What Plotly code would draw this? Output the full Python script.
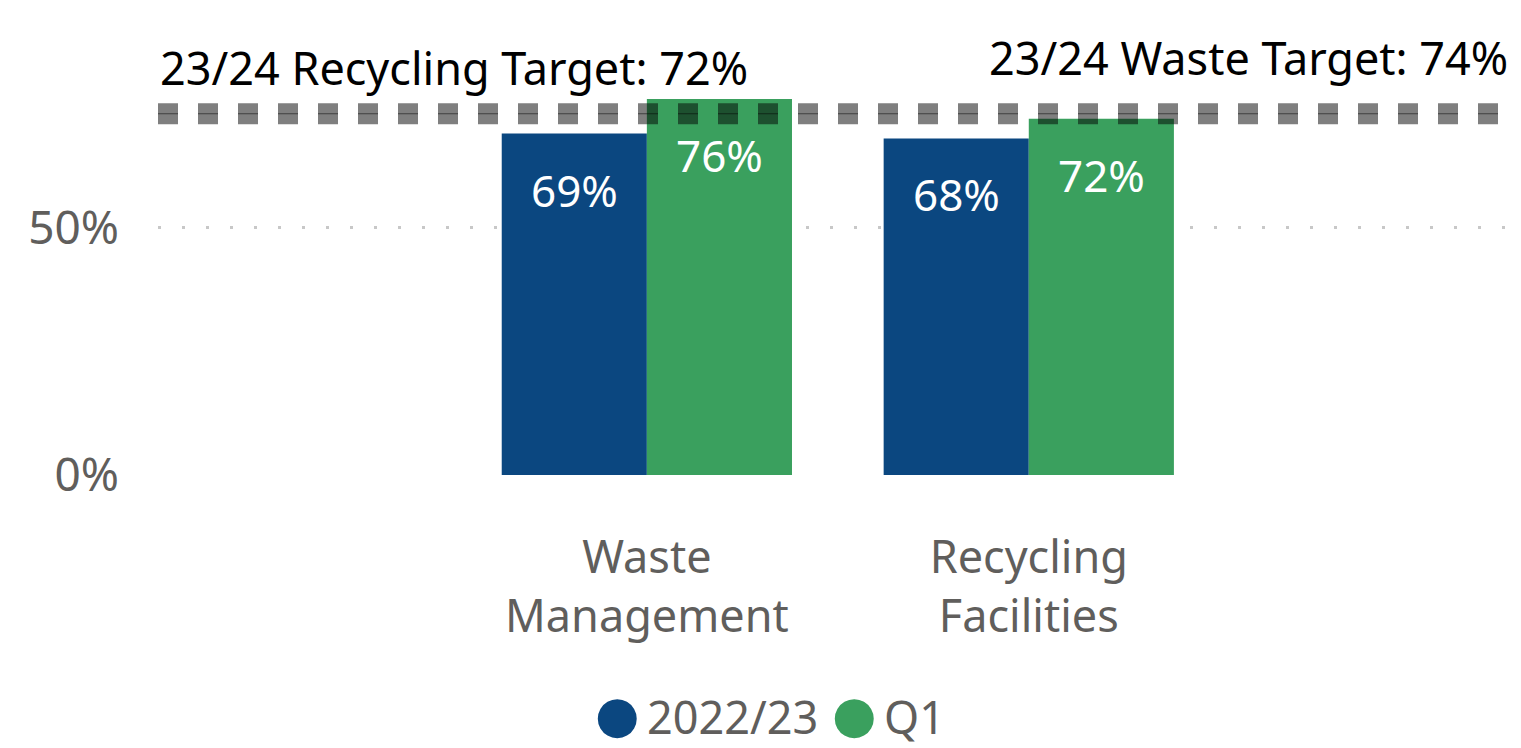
import plotly.graph_objects as go

categories = ["Waste<br>Management", "Recycling<br>Facilities"]
series_names = ["2022/23", "Q1"]
values_2022 = [69, 68]
values_q1 = [76, 72]
targets = [74, 72]
target_labels = ["23/24 Waste Target: 74%", "23/24 Recycling Target: 72%"]
ytick_vals = [0, 50]
ytick_text = ["0%", "50%"]

BLUE = "#0B4780"
GREEN = "#3AA05E"
GRAY = "#605E5C"
FONT = "Noto Sans"

fig = go.Figure()
for name, vals, col in [(series_names[0], values_2022, BLUE), (series_names[1], values_q1, GREEN)]:
    fig.add_trace(go.Bar(x=categories, y=vals, name=name, marker=dict(color=col, line=dict(width=0)),
                         showlegend=False))

# value labels inside bars
for i, cat in enumerate(categories):
    for vals, shift in [(values_2022, -72.5), (values_q1, 72.5)]:
        fig.add_annotation(x=cat, y=vals[i], xref="x", yref="y", text=f"{vals[i]}%",
                           showarrow=False, xshift=shift, yshift=-56, yanchor="middle",
                           font=dict(family=FONT, size=44, color="white"))

# target lines
for t in targets:
    fig.add_shape(type="line", xref="paper", x0=0, x1=1, yref="y", y0=t, y1=t,
                  line=dict(color="rgba(0,0,0,0.5)", width=11, dash="20px,20px"), layer="above")

fig.add_annotation(x=1, y=targets[0], xref="paper", yref="y", text=target_labels[0], showarrow=False,
                   xanchor="right", yanchor="bottom", yshift=19, font=dict(family=FONT, size=45, color="black"))
fig.add_annotation(x=0, y=targets[1], xref="paper", yref="y", text=target_labels[1], showarrow=False,
                   xanchor="left", yanchor="bottom", yshift=19, font=dict(family=FONT, size=45, color="black"))

# legend drawn as text items
legend_y = -0.555
for name, col, xc, xt in [(series_names[0], BLUE, 0.3395, 0.3602), (series_names[1], GREEN, 0.5148, 0.5355)]:
    fig.add_annotation(x=xc, y=legend_y, xref="paper", yref="paper", text="●", showarrow=False,
                       font=dict(family="DejaVu Sans", size=51, color=col), xanchor="center", yanchor="middle",
                       yshift=2)
    fig.add_annotation(x=xt, y=legend_y, xref="paper", yref="paper", text=name, showarrow=False,
                       font=dict(family=FONT, size=45, color=GRAY), xanchor="left", yanchor="middle")

fig.update_layout(
    width=1505, height=740,
    margin=dict(l=150, r=3, t=32, b=273),
    paper_bgcolor="white", plot_bgcolor="white",
    barmode="group", bargap=0.24, bargroupgap=0,
    font=dict(family=FONT, color=GRAY),
    showlegend=False,
)
fig.update_xaxes(type="category", range=[-1.28, 2.26], showgrid=False, zeroline=False, showline=False,
                 tickfont=dict(family=FONT, size=45, color=GRAY), ticks="", ticklabelstandoff=52)
fig.update_yaxes(range=[0, 87.9], tickvals=ytick_vals, ticktext=ytick_text, showgrid=True,
                 gridcolor="#C8C8C8", gridwidth=3, griddash="3px,21px", zeroline=False, showline=False,
                 tickfont=dict(family=FONT, size=46, color=GRAY), ticks="", ticklabelstandoff=38)

fig.write_html("out.html")
